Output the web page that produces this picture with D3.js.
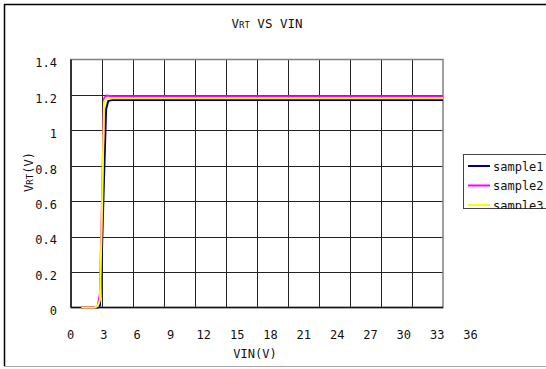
<!DOCTYPE html>
<html>
<head>
<meta charset="utf-8">
<script src="https://cdn.jsdelivr.net/npm/d3@7"></script>
<style>
  body { margin: 0; background: #fff; }
  svg text { font-family: "DejaVu Sans Mono", "Liberation Mono", monospace; fill: #111; }
</style>
</head>
<body>
<svg id="chart" width="546" height="369"></svg>
<script>
// values
var vin     = [1, 2, 2.3, 2.6, 2.8, 3.0, 3.2, 3.4, 3.6, 4, 5, 6, 9, 12, 15, 18, 21, 24, 27, 30, 33, 36];
var sample1 = [0, 0, 0, 0, 0.01, 0.33, 0.74, 1.12, 1.165, 1.172, 1.172, 1.172, 1.172, 1.172, 1.172, 1.172, 1.172, 1.172, 1.172, 1.172, 1.172, 1.172];
var sample2 = [0, 0, 0, 0.01, 0.08, 0.6, 1.18, 1.196, 1.195, 1.192, 1.192, 1.192, 1.192, 1.192, 1.192, 1.192, 1.192, 1.192, 1.192, 1.192, 1.192, 1.192];
var sample3 = [0, 0, 0, 0.01, 0.04, 0.55, 1.16, 1.181, 1.181, 1.181, 1.181, 1.181, 1.181, 1.181, 1.181, 1.181, 1.181, 1.181, 1.181, 1.181, 1.181, 1.181];
var seriesNames  = ["sample1", "sample2", "sample3"];
var seriesColors = ["#000080", "#FF00FF", "#FFFF00"];
var xTicks = [0, 3, 6, 9, 12, 15, 18, 21, 24, 27, 30, 33, 36];
var yTicks = [0, 0.2, 0.4, 0.6, 0.8, 1, 1.2, 1.4];

var svg = d3.select("#chart");

// outer chart frame
svg.append("path").attr("d", "M4.5,366 L4.5,4.5 L560,4.5").style("fill", "none").style("stroke", "#000").style("stroke-width", "1.5px");
svg.append("line").attr("x1", 4).attr("x2", 546).attr("y1", 366.5).attr("y2", 366.5).style("stroke", "#aaa");

var x = d3.scaleLinear().domain([0, 36]).range([71, 443]);
var y = d3.scaleLinear().domain([0, 1.4]).range([307.5, 59.5]);

// label scale for x (the reference's x labels sit on a wider spacing than the grid)
var xLab = d3.scaleLinear().domain([0, 36]).range([70, 470]);

// grid
svg.append("g").selectAll("line").data(xTicks.slice(1, -1)).enter().append("line")
  .attr("x1", function(d) { return Math.round(x(d)) + 0.5; })
  .attr("x2", function(d) { return Math.round(x(d)) + 0.5; })
  .attr("y1", y(1.4)).attr("y2", y(0))
  .style("stroke", "#222").style("stroke-width", "1px");
svg.append("g").selectAll("line").data(yTicks.slice(1, -1)).enter().append("line")
  .attr("y1", function(d) { return Math.round(y(d)) + 0.5; })
  .attr("y2", function(d) { return Math.round(y(d)) + 0.5; })
  .attr("x1", x(0)).attr("x2", x(36))
  .style("stroke", "#222").style("stroke-width", "1px");

// plot border
svg.append("rect").attr("x", x(0)).attr("y", y(1.4)).attr("width", x(36) - x(0)).attr("height", y(0) - y(1.4))
  .style("fill", "none").style("stroke", "#808080").style("stroke-width", "1.5px");
svg.append("line").attr("x1", x(0)).attr("x2", x(36)).attr("y1", y(0)).attr("y2", y(0)).style("stroke", "#111").style("stroke-width", "1.5px");
svg.append("line").attr("x1", x(0)).attr("x2", x(0)).attr("y1", y(0)).attr("y2", y(1.4)).style("stroke", "#111").style("stroke-width", "1.5px");

// series
var line = d3.line()
  .x(function(d) { return x(d[0]); })
  .y(function(d) { return y(d[1]); });
[sample1, sample2, sample3].forEach(function(s, i) {
  svg.append("path")
    .datum(vin.map(function(v, j) { return [v, s[j]]; }))
    .attr("d", line)
    .style("fill", "none").style("stroke", seriesColors[i]).style("stroke-width", "2px");
});

// tick labels
var xAxis = svg.append("g").attr("transform", "translate(0,327)")
  .call(d3.axisBottom(xLab).tickValues(xTicks).tickSize(0).tickFormat(d3.format("d")));
xAxis.select(".domain").remove();
xAxis.selectAll("text").style("font-size", "12px").style("font-family", "DejaVu Sans Mono");

var yAxis = svg.append("g").attr("transform", "translate(60,3.5)")
  .call(d3.axisLeft(y).tickValues(yTicks).tickSize(0).tickFormat(function(d) { return d === 0 || d === 1 ? d : d.toFixed(1); }));
yAxis.select(".domain").remove();
yAxis.selectAll("text").style("font-size", "12px").style("font-family", "DejaVu Sans Mono");

// titles
var title = svg.append("text").attr("x", 267).attr("y", 28).attr("text-anchor", "middle").style("font-size", "12.5px");
title.append("tspan").text("V");
title.append("tspan").style("font-size", "9px").text("RT");
title.append("tspan").text(" VS VIN");

svg.append("text").attr("x", 255).attr("y", 358).attr("text-anchor", "middle").style("font-size", "12px").text("VIN(V)");

var yt = svg.append("text").attr("transform", "translate(33,172) rotate(-90)").attr("text-anchor", "middle").style("font-size", "12px");
yt.append("tspan").text("V");
yt.append("tspan").style("font-size", "9px").text("RT");
yt.append("tspan").text("(V)");

// legend (bottom entry is cut by the box edge, as in the reference)
svg.append("clipPath").attr("id", "legclip").append("rect").attr("x", 463).attr("y", 154).attr("width", 200).attr("height", 55);
var leg = svg.append("g").attr("clip-path", "url(#legclip)");
leg.append("rect").attr("x", 463.5).attr("y", 154.5).attr("width", 200).attr("height", 54)
  .style("fill", "#fff").style("stroke", "#444").style("stroke-width", "1px");
seriesNames.forEach(function(n, i) {
  var ly = 166 + i * 19.5;
  leg.append("line").attr("x1", 468).attr("x2", 490).attr("y1", ly).attr("y2", ly)
    .style("stroke", seriesColors[i]).style("stroke-width", "2px");
  leg.append("text").attr("x", 493).attr("y", ly + 4.5).style("font-size", "12px").text(n);
});
</script>
</body>
</html>
